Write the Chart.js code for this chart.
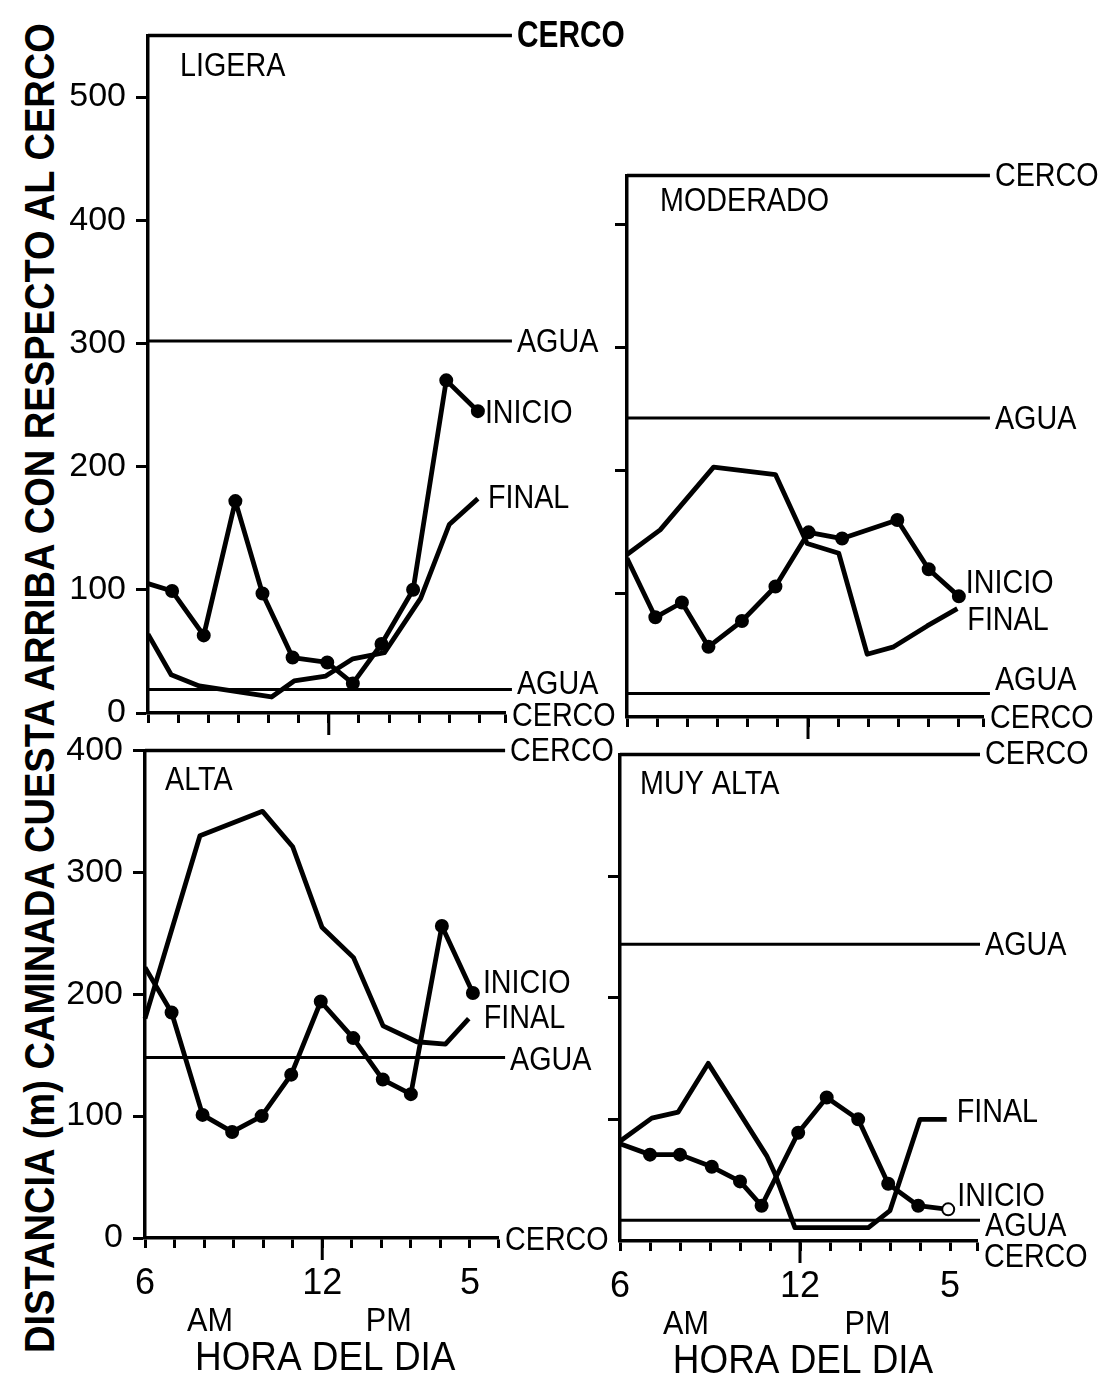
<!DOCTYPE html>
<html>
<head>
<meta charset="utf-8">
<script src="https://cdn.jsdelivr.net/npm/chart.js@4.4.1/dist/chart.umd.min.js"></script>
<style>
  html, body { margin: 0; padding: 0; background: #fff; }
  #page { position: relative; width: 1103px; height: 1377px; overflow: hidden; background: #fff; }
  #page canvas { position: absolute; }
  #ytitle {
    position: absolute; white-space: nowrap; color: #000;
    font: bold 42px "Liberation Sans", Arial, sans-serif;
    transform-origin: center center;
  }
</style>
</head>
<body>
<div id="page">
  <div id="ytitle">DISTANCIA (m) CAMINADA CUESTA ARRIBA CON RESPECTO AL CERCO</div>
</div>
<script>
// hour ticks along the bottom (6 AM .. 5 PM) and the labels shown under them
const horaTicks = [6, 7, 8, 9, 10, 11, 12, 13, 14, 15, 16, 17];
const horaEtiquetas = ["6", "", "", "", "", "", "12", "", "", "", "", "5"];

// LIGERA
const ligeraInicioHoras = [6, 6.8, 7.85, 8.9, 9.8, 10.8, 11.95, 12.8, 13.75, 14.8, 15.9, 16.95];
const ligeraInicioDist = [105, 99, 63, 172, 97, 45, 41, 24, 56, 100, 270, 245];
const ligeraFinalHoras = [6, 6.77, 7.7, 10.1, 10.85, 11.9, 12.8, 13.85, 15.05, 16.0, 16.95];
const ligeraFinalDist = [64, 31, 22, 13, 26, 30, 44, 49, 93, 153, 174];
const ligeraCerco = 550;
const ligeraAgua = [302, 19];
const ligeraEjeY = [0, 100, 200, 300, 400, 500];

// MODERADO
const moderadoInicioHoras = [6, 6.94, 7.82, 8.7, 9.81, 10.92, 12.02, 13.13, 14.96, 16.0, 17.0];
const moderadoInicioDist = [129, 81, 93, 57, 78, 106, 150, 145, 160, 120, 98];
const moderadoFinalHoras = [6, 7.1, 8.87, 10.92, 11.97, 13.02, 13.96, 14.84, 15.95, 16.95];
const moderadoFinalDist = [132, 152, 203, 197, 141, 133, 51, 57, 74, 88];
const moderadoCerco = 440;
const moderadoAgua = [243, 19];
const moderadoEjeY = [100, 200, 300, 400];

// ALTA
const altaInicioHoras = [6, 6.9, 7.95, 8.95, 9.95, 10.95, 11.95, 13.05, 14.05, 15.0, 16.05, 17.1];
const altaInicioDist = [222, 185, 101, 87, 100, 134, 194, 164, 130, 118, 256, 201];
const altaFinalHoras = [6, 7.86, 9.98, 11.0, 11.99, 13.06, 14.06, 15.2, 16.17, 16.96];
const altaFinalDist = [180, 330, 350, 321, 255, 230, 174, 161, 159, 180];
const altaCerco = 400;
const altaAgua = [148];
const altaEjeY = [0, 100, 200, 300, 400];

// MUY ALTA
const muyAltaInicioHoras = [6, 7.0, 8.0, 9.06, 10.0, 10.72, 11.94, 12.89, 13.94, 14.94, 15.94, 16.94];
const muyAltaInicioDist = [80, 71, 71, 61, 49, 29, 89, 118, 100, 47, 29, 26];
const muyAltaFinalHoras = [6, 7.06, 7.94, 8.94, 10.89, 11.17, 11.83, 14.28, 15.0, 16.0, 16.89];
const muyAltaFinalDist = [82, 101, 106, 146, 70, 55, 11, 11, 25, 100, 100];
const muyAltaCerco = 400;
const muyAltaAgua = [244, 17];
const muyAltaEjeY = [100, 200, 300];

const FONT = '"Liberation Sans", Arial, sans-serif';
Chart.defaults.font.family = FONT;
Chart.defaults.color = "#000";

// where each panel sits on the page and how its texts are nudged
const panels = [
  {
    titulo: "LIGERA", area: { left: 148, top: 30, right: 505, bottom: 713 }, padRight: 140, padBottom: 35,
    xMax: 17.85, lineEnd: 18.08, cerco: ligeraCerco, agua: ligeraAgua, ejeY: ligeraEjeY,
    inicio: [ligeraInicioHoras, ligeraInicioDist], final: [ligeraFinalHoras, ligeraFinalDist],
    yLabels: true, xLabels: false, cercoBold: true,
    titleOff: [32, 32], cercoDy: 2, aguaDy: [2, -5], baseDy: 4, inicioOff: [7, 3], finalOff: [10, 0],
  },
  {
    titulo: "MODERADO", area: { left: 627, top: 170, right: 983, bottom: 717 }, padRight: 120, padBottom: 35,
    xMax: 17.8, lineEnd: 18.03, cerco: moderadoCerco, agua: moderadoAgua, ejeY: moderadoEjeY,
    inicio: [moderadoInicioHoras, moderadoInicioDist], final: [moderadoFinalHoras, moderadoFinalDist],
    yLabels: false, xLabels: false,
    titleOff: [33, 27], cercoDy: 2, aguaDy: [2, -13], baseDy: 2, inicioOff: [7, -12], finalOff: [10, 12],
  },
  {
    titulo: "ALTA", area: { left: 145, top: 745, right: 498, bottom: 1238 }, padRight: 125, padBottom: 139,
    xMax: 17.95, lineEnd: 18.19, cerco: altaCerco, agua: altaAgua, ejeY: altaEjeY,
    inicio: [altaInicioHoras, altaInicioDist], final: [altaFinalHoras, altaFinalDist],
    yLabels: true, xLabels: true,
    titleOff: [20, 31], cercoDy: 2, aguaDy: [3], baseDy: 3, inicioOff: [10, -9], finalOff: [15, 0],
  },
  {
    titulo: "MUY ALTA", area: { left: 620, top: 749, right: 977, bottom: 1241 }, padRight: 126, padBottom: 136,
    xMax: 17.9, lineEnd: 18.0, cerco: muyAltaCerco, agua: muyAltaAgua, ejeY: muyAltaEjeY,
    inicio: [muyAltaInicioHoras, muyAltaInicioDist], final: [muyAltaFinalHoras, muyAltaFinalDist],
    yLabels: false, xLabels: true, hollowEnd: true,
    titleOff: [20, 31], cercoDy: 1, aguaDy: [2, 7], baseDy: 17, inicioOff: [9, -12], finalOff: [10, -6],
  },
];

const PAD_LEFT = 95;
const PAD_TOP = 25;
const LABEL_FONT = "33px " + FONT;
const LABEL_SX = 0.87; // the lettering in the figure is narrower than Liberation Sans

function pts(horas, dist) {
  return horas.map((h, i) => ({ x: h, y: dist[i] }));
}

function hline(y, x1) {
  return [{ x: 6, y: y }, { x: x1, y: y }];
}

// narrow text: squeeze horizontally around the anchor point
function txt(ctx, s, x, y, font, sx, align) {
  ctx.save();
  ctx.translate(x, y);
  ctx.scale(sx, 1);
  ctx.font = font;
  ctx.textAlign = align || "left";
  ctx.textBaseline = "middle";
  ctx.fillText(s, 0, 0);
  ctx.restore();
}

const labelsPlugin = {
  id: "panelLabels",
  afterDraw(chart) {
    const p = chart.config.options.plugins.panelLabels.panel;
    const { ctx, chartArea } = chart;
    const xs = chart.scales.x, ys = chart.scales.y;
    ctx.save();
    ctx.fillStyle = "#000";
    ctx.strokeStyle = "#000";

    // longer tick at noon
    ctx.lineWidth = 3;
    ctx.beginPath();
    const x12 = xs.getPixelForValue(12);
    ctx.moveTo(x12, chartArea.bottom);
    ctx.lineTo(x12, chartArea.bottom + 22);
    ctx.stroke();

    // panel title
    txt(ctx, p.titulo, chartArea.left + p.titleOff[0], chartArea.top + p.titleOff[1], LABEL_FONT, LABEL_SX);

    // reference line labels
    const xr = xs.getPixelForValue(p.lineEnd) + 5;
    if (p.cercoBold) {
      txt(ctx, "CERCO", xr, ys.getPixelForValue(p.cerco) + p.cercoDy, "bold 36px " + FONT, 0.83);
    } else {
      txt(ctx, "CERCO", xr, ys.getPixelForValue(p.cerco) + p.cercoDy, LABEL_FONT, LABEL_SX);
    }
    p.agua.forEach((a, i) => txt(ctx, "AGUA", xr, ys.getPixelForValue(a) + p.aguaDy[i], LABEL_FONT, LABEL_SX));
    txt(ctx, "CERCO", xs.getPixelForValue(p.xMax) + 7, ys.getPixelForValue(0) + p.baseDy, LABEL_FONT, LABEL_SX);

    // series labels at their last point
    const li = p.inicio[0].length - 1;
    txt(ctx, "INICIO", xs.getPixelForValue(p.inicio[0][li]) + p.inicioOff[0],
      ys.getPixelForValue(p.inicio[1][li]) + p.inicioOff[1], LABEL_FONT, LABEL_SX);
    const lf = p.final[0].length - 1;
    txt(ctx, "FINAL", xs.getPixelForValue(p.final[0][lf]) + p.finalOff[0],
      ys.getPixelForValue(p.final[1][lf]) + p.finalOff[1], LABEL_FONT, LABEL_SX);

    // AM / PM and the axis name under the bottom panels
    if (p.xLabels) {
      txt(ctx, "AM", xs.getPixelForValue(8.2), chartArea.bottom + 84, "34px " + FONT, 0.9, "center");
      txt(ctx, "PM", xs.getPixelForValue(14.25), chartArea.bottom + 84, "34px " + FONT, 0.9, "center");
      txt(ctx, "HORA DEL DIA", xs.getPixelForValue(12.1), chartArea.bottom + 121, "41px " + FONT, 0.9, "center");
    }
    ctx.restore();
  },
};

const page = document.getElementById("page");

panels.forEach((p) => {
  const a = p.area;
  const canvas = document.createElement("canvas");
  const w = a.right - a.left + PAD_LEFT + p.padRight;
  const h = a.bottom - a.top + PAD_TOP + p.padBottom;
  canvas.width = w;
  canvas.height = h;
  canvas.style.left = (a.left - PAD_LEFT) + "px";
  canvas.style.top = (a.top - PAD_TOP) + "px";
  canvas.style.width = w + "px";
  canvas.style.height = h + "px";
  page.appendChild(canvas);

  const nIni = p.inicio[0].length;
  const refLines = [{ y: p.cerco, w: 3.5 }].concat(p.agua.map((v) => ({ y: v, w: 3 })));

  new Chart(canvas.getContext("2d"), {
    type: "line",
    data: {
      datasets: [
        {
          label: "INICIO",
          data: pts(p.inicio[0], p.inicio[1]),
          borderColor: "#000",
          borderWidth: 4.8,
          pointRadius: (c) => (c.dataIndex === 0 ? 0 : 6),
          pointBackgroundColor: (c) => (p.hollowEnd && c.dataIndex === nIni - 1 ? "#fff" : "#000"),
          pointBorderColor: "#000",
          pointBorderWidth: 2,
        },
        {
          label: "FINAL",
          data: pts(p.final[0], p.final[1]),
          borderColor: "#000",
          borderWidth: 4.8,
          pointRadius: 0,
        },
      ].concat(refLines.map((r) => ({
        label: "ref",
        data: hline(r.y, p.lineEnd),
        borderColor: "#000",
        borderWidth: r.w,
        pointRadius: 0,
      }))),
    },
    options: {
      responsive: false,
      animation: false,
      datasets: { line: { clip: false, tension: 0, borderJoinStyle: "round", fill: false } },
      layout: { padding: { left: 0, top: PAD_TOP, right: p.padRight, bottom: 0 } },
      plugins: {
        legend: { display: false },
        tooltip: { enabled: false },
        panelLabels: { panel: p },
      },
      scales: {
        x: {
          type: "linear",
          min: 6,
          max: p.xMax,
          afterBuildTicks: (s) => { s.ticks = horaTicks.concat([p.xMax]).map((v) => ({ value: v })); },
          afterFit: (s) => { s.height = p.padBottom; },
          ticks: {
            autoSkip: false,
            maxRotation: 0,
            padding: 14,
            font: { size: 36 },
            callback: (v) => {
              const i = horaTicks.indexOf(v);
              return p.xLabels && i >= 0 ? horaEtiquetas[i] : "";
            },
          },
          grid: { drawOnChartArea: false, drawTicks: true, tickLength: 10, tickWidth: 3, tickColor: "#000" },
          border: { display: true, width: 3.5, color: "#000" },
        },
        y: {
          type: "linear",
          min: 0,
          max: p.cerco,
          afterBuildTicks: (s) => { s.ticks = p.ejeY.map((v) => ({ value: v })); },
          afterFit: (s) => { s.width = PAD_LEFT; },
          ticks: {
            padding: 10,
            font: { size: 34 },
            callback: (v) => (p.yLabels ? String(v) : ""),
          },
          grid: { drawOnChartArea: false, drawTicks: true, tickLength: 12, tickWidth: 3, tickColor: "#000" },
          border: { display: true, width: 3.5, color: "#000" },
        },
      },
    },
    plugins: [labelsPlugin],
  });
});

// rotated axis title, stretched to the same length as in the figure
const yt = document.getElementById("ytitle");
const tw = yt.offsetWidth, th = yt.offsetHeight;
yt.style.left = (40 - tw / 2) + "px";
yt.style.top = (688 - th / 2) + "px";
yt.style.transform = "rotate(-90deg) scaleX(" + (1330 / tw) + ")";
</script>
</body>
</html>
